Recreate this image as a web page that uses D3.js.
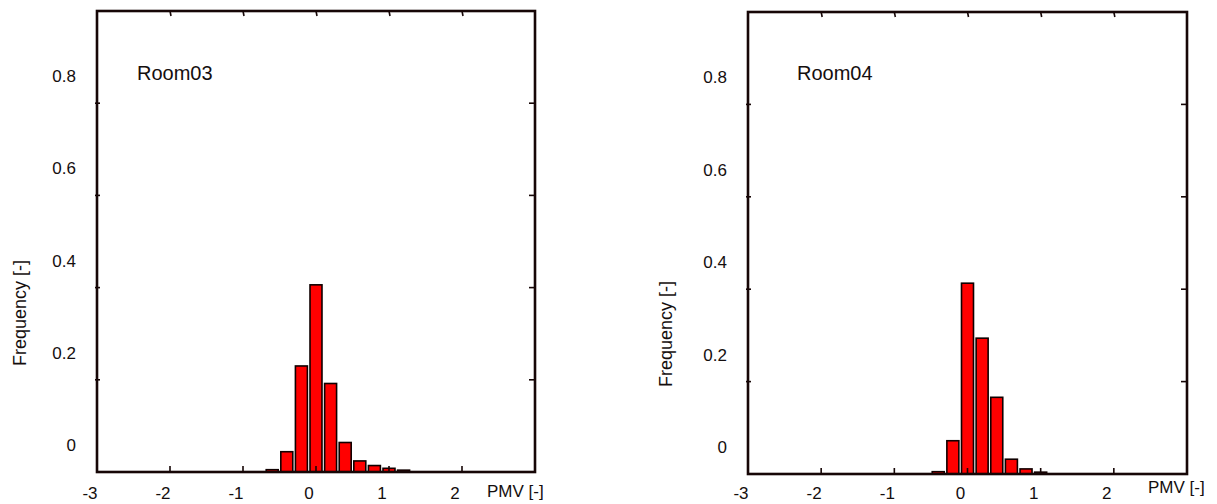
<html>
<head>
	<meta charset="utf-8">
	<style>
		body { margin: 0; background: #fff; }
		text { font-family: Arial, "Liberation Sans", sans-serif; fill: #140e0e; }
		.frame { fill: none; stroke: #160606; stroke-width: 2.6; }
		.tick { stroke: #160606; stroke-width: 1.6; }
		.bar { fill: #ff0000; stroke: #100000; stroke-width: 1.6; }
	</style>
</head>
<body>
	<script src="https://d3js.org/d3.v7.min.js" charset="utf-8"></script>
	<script>
	// histogram data, PMV bin centres and relative frequency
	var pmv03 = [-0.6, -0.4, -0.2, 0, 0.2, 0.4, 0.6, 0.8, 1.0, 1.2];
	var freq03 = [0.005, 0.044, 0.23, 0.406, 0.192, 0.064, 0.024, 0.014, 0.008, 0.004];
	var pmv04 = [-0.4, -0.2, 0, 0.2, 0.4, 0.6, 0.8, 1.0];
	var freq04 = [0.005, 0.072, 0.413, 0.294, 0.166, 0.032, 0.011, 0.004];
	var xTicks = [-3, -2, -1, 0, 1, 2];
	var yTicks = [0, 0.2, 0.4, 0.6, 0.8];
	var yTicksAll = [0.2, 0.4, 0.6, 0.8];
	var binHalf = 0.082;

	var svg = d3.select("body").append("svg")
		.attr("width", 1217)
		.attr("height", 504);

	function panel(o) {
		var x = d3.scaleLinear().domain([-3, 3]).range([o.left, o.right]);
		var y = d3.scaleLinear().domain([0, 1]).range([o.bottom, o.top]);
		var g = svg.append("g");
		var data = o.pmv.map(function(p, i){ return {p: p, f: o.freq[i]}; });

		// bars
		g.selectAll("rect.bar").data(data).enter()
			.append("rect")
			.attr("class", "bar")
			.attr("x", function(d){ return x(d.p - binHalf); })
			.attr("width", function(d){ return x(d.p + binHalf) - x(d.p - binHalf); })
			.attr("y", function(d){ return y(d.f); })
			.attr("height", function(d){ return y(0) - y(d.f); });

		// frame
		g.append("rect").attr("class", "frame")
			.attr("x", x(-3)).attr("y", y(1))
			.attr("width", x(3) - x(-3)).attr("height", y(0) - y(1));

		// inner ticks
		var inner = xTicks.slice(1);
		g.selectAll("line.bt").data(inner).enter().append("line").attr("class", "tick")
			.attr("x1", x).attr("x2", x).attr("y1", y(0)).attr("y2", y(0) - 6);
		g.selectAll("line.tt").data(inner).enter().append("line").attr("class", "tick")
			.attr("x1", x).attr("x2", function(d){ return x(d) + 1; }).attr("y1", y(1)).attr("y2", y(1) + 5);
		g.selectAll("line.rt").data(yTicksAll).enter().append("line").attr("class", "tick")
			.attr("x1", x(3)).attr("x2", x(3) - 6).attr("y1", y).attr("y2", y);
		g.selectAll("line.lt").data(yTicksAll).enter().append("line").attr("class", "tick")
			.attr("x1", x(-3) - 2).attr("x2", x(-3) + 3).attr("y1", y).attr("y2", y);

		// tick labels (drawn a little off their ticks, as in the source figure)
		g.selectAll("text.yl").data(yTicks).enter().append("text")
			.attr("x", x(-3) - 21)
			.attr("y", function(d){ return y(d) - 21; })
			.attr("text-anchor", "end")
			.style("font-size", "17px")
			.text(function(d){ return d === 0 ? "0" : d3.format(".1f")(d); });
		g.selectAll("text.xl").data(xTicks).enter().append("text")
			.attr("x", function(d){ return x(d) - 7; })
			.attr("y", o.xlBase)
			.attr("text-anchor", "middle")
			.style("font-size", "17px")
			.text(function(d){ return d; });

		g.append("text")
			.attr("x", o.pmvX).attr("y", o.pmvY)
			.style("font-size", "17px")
			.text("PMV [-]");

		g.append("text")
			.attr("transform", "translate(" + o.freqX + "," + o.freqY + ") rotate(-90)")
			.attr("text-anchor", "middle")
			.style("font-size", "18px")
			.text("Frequency [-]");

		g.append("text")
			.attr("x", o.left + o.roomDx).attr("y", 80)
			.style("font-size", "20px")
			.text(o.name);
	}

	panel({name: "Room03", pmv: pmv03, freq: freq03,
		left: 97, right: 535, top: 11, bottom: 472,
		xlBase: 499, pmvX: 487, pmvY: 497, freqX: 26, freqY: 313, roomDx: 40});
	panel({name: "Room04", pmv: pmv04, freq: freq04,
		left: 748, right: 1187, top: 12, bottom: 474,
		xlBase: 499, pmvX: 1148, pmvY: 493, freqX: 672, freqY: 334, roomDx: 49});
	</script>
</body>
</html>
